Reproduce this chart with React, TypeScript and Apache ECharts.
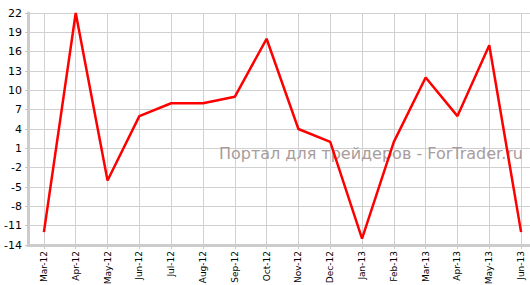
import React, { useEffect, useRef } from "react";
import * as echarts from "echarts";

const categories = [
  "Mar-12", "Apr-12", "May-12", "Jun-12", "Jul-12", "Aug-12", "Sep-12", "Oct-12",
  "Nov-12", "Dec-12", "Jan-13", "Feb-13", "Mar-13", "Apr-13", "May-13", "Jun-13",
];
const values = [-12, 22, -4, 6, 8, 8, 9, 18, 4, 2, -13, 2, 12, 6, 17, -12];
const yMin = -14;
const yMax = 22;
const yStep = 3;
const watermark = "Портал для трейдеров - ForTrader.ru";

export default function App() {
  const ref = useRef<HTMLDivElement>(null);
  useEffect(() => {
    document.body.style.margin = "0";
    if (!ref.current) return;
    const chart = echarts.init(ref.current, undefined, { renderer: "svg" });
    const shifted = values.map((v) => v - yMin);
    chart.setOption({
      animation: false,
      backgroundColor: "#ffffff",
      title: {
        text: watermark,
        right: 7,
        top: 145,
        padding: 0,
        z: 0,
        textStyle: {
          fontFamily: "DejaVu Sans",
          fontSize: 16,
          fontWeight: "normal",
          color: "#a89c9c",
        },
      },
      grid: {
        left: 28,
        right: -7,
        top: 13,
        bottom: 40,
        containLabel: false,
        outerBoundsMode: "none",
      },
      xAxis: {
        type: "category",
        data: categories,
        boundaryGap: true,
        axisLine: { show: true, lineStyle: { color: "#cccccc", width: 3 } },
        axisTick: { show: true, alignWithLabel: true, length: 4, lineStyle: { color: "#c8c8c8", width: 1 } },
        splitLine: { show: true, alignWithLabel: true, lineStyle: { color: "#d0d0d0", width: 1 } },
        axisLabel: {
          rotate: 90,
          interval: 0,
          margin: 6,
          fontFamily: "DejaVu Sans",
          fontSize: 9,
          color: "#000000",
        },
      },
      yAxis: {
        type: "value",
        min: 0,
        max: yMax - yMin,
        interval: yStep,
        axisLine: { show: true, lineStyle: { color: "#cccccc", width: 3 } },
        axisTick: { show: true, length: 3, lineStyle: { color: "#c8c8c8" } },
        splitLine: { show: true, lineStyle: { color: "#d0d0d0", width: 1 } },
        axisLabel: {
          margin: 6,
          fontFamily: "DejaVu Sans",
          fontSize: 11,
          color: "#000000",
          formatter: (v: number) => String(v + yMin),
        },
      },
      series: [
        {
          type: "line",
          data: shifted,
          symbol: "none",
          lineStyle: { color: "#ff0000", width: 2.5 },
          z: 10,
        },
      ],
    });
    return () => chart.dispose();
  }, []);
  return <div ref={ref} style={{ width: 530, height: 285 }} />;
}
